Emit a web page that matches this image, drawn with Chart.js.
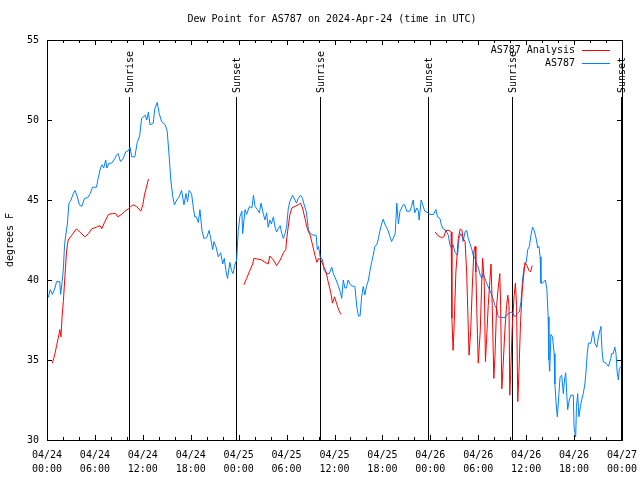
<!DOCTYPE html>
<html>
<head>
<meta charset="utf-8">
<script src="https://cdn.jsdelivr.net/npm/chart.js@4"></script>
<style>
  body { margin: 0; background: #fff; }
  canvas { display: block; }
</style>
</head>
<body>
<canvas id="dew_chart" width="640" height="480"></canvas>
<script>
// hours since 04/24 00:00 UTC
const stationHours = [0.16, 0.4, 0.67, 1.0, 1.2, 1.6, 1.7, 1.9, 2.05, 2.2, 2.35, 2.55, 2.75, 3.0, 3.3, 3.5, 3.8, 4.05, 4.35, 4.7, 5.1, 5.4, 5.7, 6.2, 6.4, 6.7, 6.9, 7.1, 7.35, 7.5, 7.75, 8.1, 8.5, 8.7, 8.9, 9.2, 9.55, 9.85, 10.2, 10.4, 10.6, 11.0, 11.3, 11.6, 11.85, 12.3, 12.5, 12.7, 12.9, 13.3, 13.5, 13.8, 14.05, 14.35, 14.8, 15.05, 15.3, 15.5, 15.75, 15.95, 16.25, 16.55, 16.85, 17.15, 17.4, 17.6, 17.8, 18.1, 18.3, 18.5, 18.7, 18.95, 19.15, 19.4, 19.65, 20.0, 20.3, 20.5, 20.75, 20.9, 21.15, 21.45, 21.75, 22.0, 22.2, 22.4, 22.6, 22.9, 23.1, 23.3, 23.55, 23.75, 23.95, 24.15, 24.4, 24.5, 24.8, 25.0, 25.35, 25.65, 25.85, 26.05, 26.35, 26.6, 26.8, 27.1, 27.3, 27.5, 27.7, 27.9, 28.1, 28.35, 28.55, 28.75, 28.95, 29.2, 29.4, 29.6, 29.8, 30.0, 30.2, 30.4, 30.75, 31.05, 31.25, 31.45, 31.75, 32.0, 32.2, 32.45, 32.6, 32.75, 33.0, 33.35, 33.7, 33.85, 34.0, 34.2, 34.5, 34.7, 35.0, 35.35, 35.65, 35.85, 36.2, 36.5, 36.75, 36.9, 37.1, 37.3, 37.5, 37.7, 38.0, 38.35, 38.55, 38.8, 39.0, 39.2, 39.4, 39.6, 39.8, 40.0, 40.25, 40.45, 40.65, 40.85, 41.05, 41.3, 41.5, 41.7, 41.9, 42.1, 42.3, 42.5, 42.7, 42.95, 43.15, 43.35, 43.6, 43.8, 44.0, 44.2, 44.4, 44.6, 44.8, 45.05, 45.45, 45.65, 45.85, 46.05, 46.3, 46.5, 46.6, 46.85, 47.05, 47.3, 47.7, 47.96, 48.4, 48.7, 48.9, 49.2, 49.4, 49.6, 49.95, 50.25, 50.45, 50.65, 50.85, 51.1, 51.4, 51.6, 51.8, 52.0, 52.1, 52.35, 52.55, 52.75, 52.95, 53.2, 53.4, 53.6, 53.8, 54.0, 54.25, 54.45, 54.6, 54.85, 55.05, 55.4, 55.7, 56.1, 56.3, 56.5, 56.9, 57.35, 57.75, 58.2, 58.6, 58.9, 59.15, 59.35, 59.55, 59.75, 60.0, 60.2, 60.4, 60.6, 60.8, 61.0, 61.25, 61.45, 61.6, 61.75, 61.85, 62.0, 62.25, 62.4, 62.6, 62.75, 62.85, 62.95, 63.1, 63.3, 63.5, 63.6, 63.75, 63.9, 64.1, 64.25, 64.45, 64.65, 64.8, 64.95, 65.1, 65.2, 65.4, 65.6, 65.9, 66.0, 66.2, 66.3, 66.45, 66.6, 66.8, 66.95, 67.15, 67.35, 67.5, 67.65, 67.8, 68.1, 68.3, 68.4, 68.6, 68.85, 69.05, 69.25, 69.35, 69.5, 69.65, 70.0, 70.3, 70.6, 70.7, 70.9, 71.1, 71.25, 71.4, 71.55, 71.65, 71.85];
const stationDew = [38.9, 39.4, 39.1, 39.5, 39.9, 39.9, 39.1, 39.9, 40.7, 42.2, 42.8, 43.5, 44.8, 45.0, 45.4, 45.6, 45.2, 44.7, 44.6, 45.1, 45.15, 45.4, 45.8, 45.8, 46.35, 47.0, 47.2, 47.0, 47.5, 47.0, 47.3, 47.3, 47.6, 47.8, 47.9, 47.4, 47.6, 48.0, 48.1, 48.3, 47.7, 47.7, 48.6, 49.0, 50.1, 50.3, 50.0, 50.5, 49.7, 49.8, 50.7, 51.1, 50.4, 49.9, 49.7, 49.3, 47.7, 46.25, 45.2, 44.7, 45.0, 45.2, 45.6, 44.7, 45.4, 44.9, 45.6, 45.4, 44.6, 43.95, 43.95, 43.6, 44.4, 43.1, 42.6, 42.65, 43.1, 42.6, 41.9, 42.4, 42.1, 41.45, 41.7, 41.0, 41.35, 40.6, 40.1, 41.1, 40.6, 40.4, 41.0, 41.25, 43.1, 43.95, 44.3, 42.9, 44.4, 44.1, 44.6, 44.5, 45.3, 44.6, 44.4, 44.2, 44.8, 44.1, 43.75, 44.2, 43.3, 43.75, 43.5, 43.95, 43.3, 43.0, 43.2, 43.4, 42.9, 42.6, 42.9, 43.3, 44.4, 44.9, 45.3, 45.0, 44.8, 45.1, 45.3, 45.1, 44.7, 44.3, 43.75, 43.1, 42.9, 42.8, 42.8, 41.9, 42.1, 41.45, 41.25, 40.6, 40.4, 40.4, 40.8, 40.4, 40.0, 39.6, 39.2, 38.85, 40.0, 39.5, 39.5, 40.0, 39.7, 39.6, 39.6, 38.3, 37.75, 37.75, 38.95, 39.6, 39.06, 39.6, 40.0, 40.6, 41.1, 41.55, 42.1, 42.2, 42.6, 43.1, 43.5, 43.8, 43.5, 43.3, 43.1, 42.7, 42.4, 42.6, 42.9, 44.8, 43.5, 44.3, 44.5, 44.7, 44.7, 44.3, 44.3, 44.6, 45.0, 44.2, 44.5, 44.3, 43.75, 45.0, 44.7, 44.3, 44.2, 44.1, 44.1, 44.4, 43.95, 43.85, 43.4, 43.2, 43.1, 42.8, 42.2, 42.0, 42.2, 41.7, 41.55, 42.6, 42.9, 42.7, 42.4, 43.0, 43.1, 42.6, 42.3, 41.9, 41.5, 41.35, 41.0, 40.8, 40.3, 40.1, 40.4, 40.1, 39.8, 39.4, 39.06, 38.4, 38.2, 37.7, 37.65, 37.65, 37.9, 38.0, 37.7, 37.9, 38.0, 38.65, 40.0, 40.8, 41.1, 41.9, 42.1, 42.8, 43.3, 43.1, 42.6, 42.0, 42.1, 41.45, 39.8, 39.8, 39.9, 40.0, 39.4, 37.7, 35.0, 34.3, 36.6, 36.45, 35.4, 33.5, 32.3, 31.45, 32.9, 33.95, 34.05, 32.9, 33.75, 34.2, 32.7, 31.9, 32.5, 32.8, 32.8, 30.8, 30.2, 32.1, 32.9, 31.45, 32.1, 32.5, 32.9, 33.5, 34.3, 35.4, 36.05, 36.05, 36.6, 36.8, 36.05, 35.8, 36.45, 36.9, 37.1, 35.6, 34.9, 34.8, 34.6, 35.1, 35.4, 35.4, 35.8, 35.4, 34.2, 33.75, 34.4, 34.6];

// null = no analysis
const analysisHours = [0.67, 1.0, 1.2, 1.5, 1.6, 1.75, 1.9, 2.05, 2.25, 2.45, 2.65, 3.1, 3.7, 4.1, 4.75, 5.2, 5.6, 6.2, 6.65, 6.85, 7.2, 7.7, 8.2, 8.6, 8.85, 9.35, 9.75, 10.2, 10.5, 10.8, 11.2, 11.75, 12.0, 12.2, 12.45, 12.7, 18, 24.65, 25.0, 25.4, 25.75, 25.9, 26.45, 26.9, 27.3, 27.7, 27.9, 28.35, 28.75, 29.2, 29.6, 29.9, 30.0, 30.2, 30.4, 30.65, 31.05, 31.45, 31.75, 32.0, 32.3, 32.6, 32.95, 33.25, 33.55, 33.8, 34.0, 34.3, 34.6, 34.95, 35.2, 35.5, 35.75, 36.0, 36.25, 36.55, 36.8, 42, 48.6, 49.0, 49.4, 49.7, 49.95, 50.4, 50.6, 50.7, 50.85, 51.0, 51.2, 51.4, 51.5, 51.75, 51.95, 52.1, 52.35, 52.55, 52.75, 52.85, 53.05, 53.25, 53.45, 53.6, 53.7, 53.9, 54.0, 54.25, 54.45, 54.55, 54.75, 54.9, 55.05, 55.25, 55.45, 55.6, 55.75, 55.95, 56.1, 56.3, 56.5, 56.7, 56.8, 56.95, 57.1, 57.35, 57.55, 57.7, 57.85, 57.95, 58.05, 58.25, 58.5, 58.65, 58.8, 58.95, 59.1, 59.3, 59.5, 59.65, 59.85, 60.1, 60.35, 60.55, 60.75];
const analysisDew = [34.8, 35.4, 35.9, 36.6, 36.9, 36.45, 37.8, 38.65, 40.3, 41.8, 42.5, 42.8, 43.2, 43.0, 42.7, 42.9, 43.2, 43.3, 43.4, 43.2, 43.6, 44.1, 44.15, 44.15, 43.95, 44.1, 44.3, 44.45, 44.6, 44.7, 44.6, 44.3, 44.7, 45.3, 45.8, 46.3, null, 39.7, 40.1, 40.6, 41.0, 41.35, 41.3, 41.25, 41.1, 41.0, 41.5, 41.25, 40.9, 41.25, 41.7, 41.9, 42.5, 43.3, 44.05, 44.5, 44.6, 44.7, 44.8, 44.5, 43.85, 43.2, 42.8, 42.2, 41.55, 41.1, 41.35, 41.25, 40.9, 40.5, 39.9, 39.3, 38.55, 38.95, 38.55, 38.1, 37.85, null, 43.0, 42.75, 42.65, 42.7, 43.1, 43.1, 43.0, 37.6, 35.6, 37.4, 40.5, 41.9, 42.6, 43.2, 43.1, 42.6, 42.4, 40.5, 37.0, 35.3, 36.8, 39.5, 41.8, 42.1, 40.5, 36.6, 34.8, 36.8, 40.1, 41.35, 39.9, 34.9, 36.35, 38.4, 39.9, 41.0, 38.4, 33.85, 35.3, 38.4, 39.5, 40.4, 38.4, 33.2, 34.5, 37.0, 38.4, 39.05, 38.4, 32.8, 34.05, 37.0, 39.05, 39.8, 38.4, 32.4, 34.3, 37.4, 39.3, 40.1, 41.1, 40.9, 40.6, 40.5, 40.9];

const sunHours = [10.27, 23.67, 34.18, 47.71, 58.23, 71.88];
const sunLabels = ['Sunrise', 'Sunset', 'Sunrise', 'Sunset', 'Sunrise', 'Sunset'];

const tickDates = ['04/24', '04/24', '04/24', '04/24', '04/25', '04/25', '04/25', '04/25', '04/26', '04/26', '04/26', '04/26', '04/27'];
const tickTimes = ['00:00', '06:00', '12:00', '18:00', '00:00', '06:00', '12:00', '18:00', '00:00', '06:00', '12:00', '18:00', '00:00'];
const yTicks = [30, 35, 40, 45, 50, 55];

const FONT = '10px "DejaVu Sans Mono"';
const RED = '#ff0000';
const BLUE = '#0080ff';

const toPoints = (xs, ys) => xs.map((h, i) => ({x: h, y: ys[i]}));

// gnuplot-ish frame: border, inward mirrored ticks, sun lines, title, key
const frame = {
  id: 'frame',
  beforeDatasetsDraw(chart) {
    const {ctx, chartArea: a, scales: {x}} = chart;
    ctx.save();
    ctx.strokeStyle = '#000';
    ctx.lineWidth = 1;
    ctx.fillStyle = '#000';
    ctx.font = FONT;
    sunHours.forEach((h, i) => {
      const px = Math.round(x.getPixelForValue(h)) + 0.5;
      ctx.beginPath();
      ctx.moveTo(px, 97);
      ctx.lineTo(px, a.bottom);
      ctx.stroke();
      ctx.save();
      ctx.translate(px + 1, 93);
      ctx.rotate(-Math.PI / 2);
      ctx.textAlign = 'left';
      ctx.textBaseline = 'middle';
      ctx.fillText(sunLabels[i], 0, 0);
      ctx.restore();
    });
    ctx.restore();
  },
  afterDraw(chart) {
    const {ctx, chartArea: a, scales: {x, y}} = chart;
    ctx.save();
    ctx.strokeStyle = '#000';
    ctx.lineWidth = 1;
    ctx.strokeRect(a.left + 0.5, a.top + 0.5, a.right - a.left, a.bottom - a.top);
    ctx.beginPath();
    for (let h = 0; h <= 72; h += 2) {
      const px = Math.round(x.getPixelForValue(h)) + 0.5;
      const len = h % 6 === 0 ? 5 : 3;
      ctx.moveTo(px, a.bottom); ctx.lineTo(px, a.bottom - len);
      ctx.moveTo(px, a.top); ctx.lineTo(px, a.top + len);
    }
    yTicks.forEach(v => {
      const py = Math.round(y.getPixelForValue(v)) + 0.5;
      ctx.moveTo(a.left, py); ctx.lineTo(a.left + 5, py);
      ctx.moveTo(a.right, py); ctx.lineTo(a.right - 5, py);
    });
    ctx.stroke();

    ctx.fillStyle = '#000';
    ctx.font = FONT;
    ctx.textAlign = 'center';
    ctx.textBaseline = 'middle';
    ctx.fillText('Dew Point for AS787 on 2024-Apr-24 (time in UTC)', 332, 19);

    // key
    ctx.textAlign = 'right';
    [['AS787 Analysis', RED, 50], ['AS787', BLUE, 63]].forEach(([label, color, ky]) => {
      ctx.fillStyle = '#000';
      ctx.fillText(label, 575, ky);
      ctx.strokeStyle = color;
      ctx.beginPath();
      ctx.moveTo(582, ky + 0.5);
      ctx.lineTo(610, ky + 0.5);
      ctx.stroke();
    });
    ctx.restore();
  }
};

const ctx = document.getElementById('dew_chart');
new Chart(ctx, {
  type: 'line',
  data: {
    datasets: [{
      label: 'AS787 Analysis',
      data: toPoints(analysisHours, analysisDew),
      borderColor: RED,
      borderWidth: 1,
      pointRadius: 0,
      tension: 0,
      spanGaps: false
    }, {
      label: 'AS787',
      data: toPoints(stationHours, stationDew),
      borderColor: BLUE,
      borderWidth: 1,
      pointRadius: 0,
      tension: 0
    }]
  },
  options: {
    responsive: false,
    animation: false,
    devicePixelRatio: 1,
    layout: { padding: { top: 40, right: 18, left: 0, bottom: 0 } },
    plugins: {
      legend: { display: false },
      title: { display: false },
      tooltip: { enabled: false }
    },
    scales: {
      x: {
        type: 'linear',
        min: 0,
        max: 72,
        grid: { display: false, drawTicks: false },
        border: { display: false },
        afterBuildTicks: (scale) => {
          scale.ticks = tickDates.map((d, i) => ({ value: i * 6 }));
        },
        ticks: {
          autoSkip: false,
          maxRotation: 0,
          padding: 8,
          color: '#000',
          font: { family: 'DejaVu Sans Mono', size: 10, lineHeight: 1.4 },
          callback: (v) => [tickDates[v / 6], tickTimes[v / 6]]
        },
        afterFit: (scale) => {
          scale.height = 40;
          scale.paddingLeft = 0;
          scale.paddingRight = 0;
        }
      },
      y: {
        min: 30,
        max: 55,
        grid: { display: false, drawTicks: false },
        border: { display: false },
        afterBuildTicks: (scale) => {
          scale.ticks = yTicks.map(v => ({ value: v }));
        },
        ticks: {
          padding: 8,
          color: '#000',
          font: { family: 'DejaVu Sans Mono', size: 10 }
        },
        title: {
          display: true,
          text: 'degrees F',
          color: '#000',
          font: { family: 'DejaVu Sans Mono', size: 10 },
          padding: { top: 4, bottom: 0 }
        },
        afterFit: (scale) => { scale.width = 47; }
      }
    }
  },
  plugins: [frame]
});
</script>
</body>
</html>
